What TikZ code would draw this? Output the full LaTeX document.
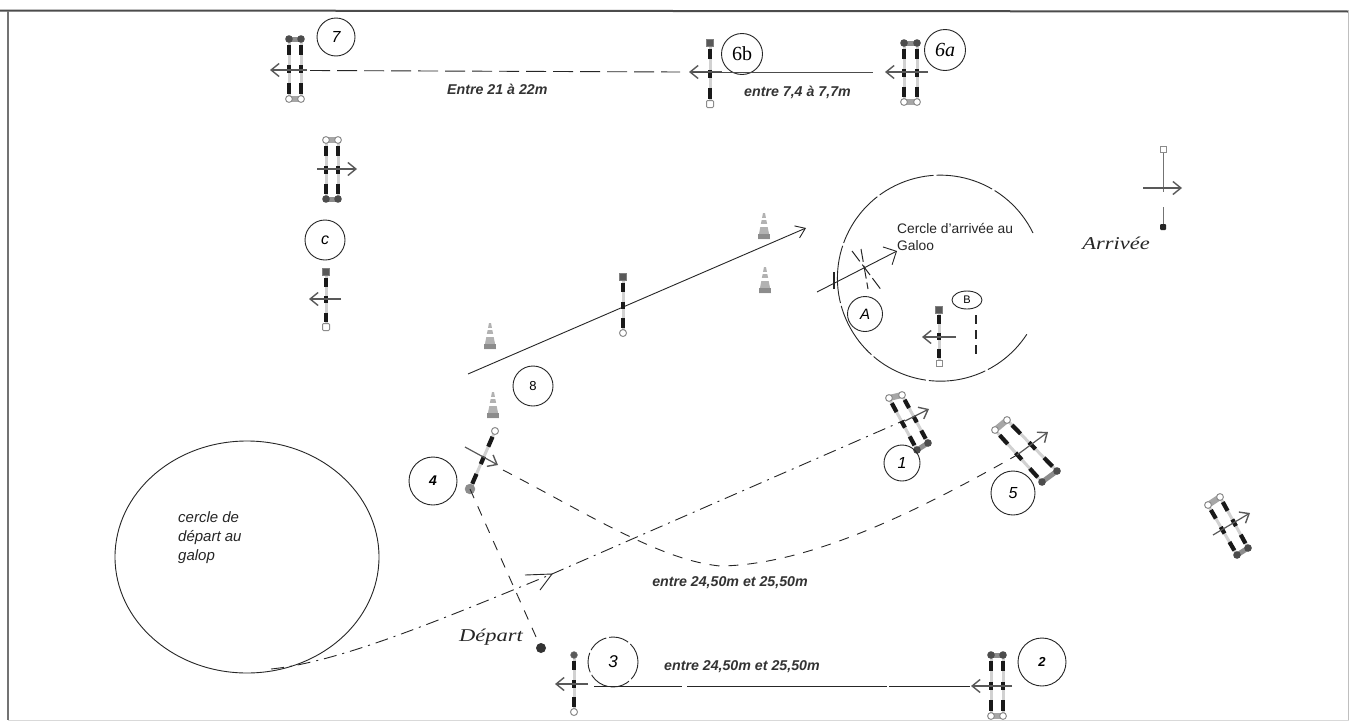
\documentclass[tikz,border=0pt]{standalone}
\usepackage{fontspec}
\setmainfont{Liberation Sans}
\newfontfamily\handfont{Liberation Serif}
\usetikzlibrary{calc,arrows.meta,shapes.geometric}
\tikzset{
  bubble/.style={circle,draw=black!85,line width=0.9pt,minimum size=38pt,inner sep=0pt,font=\itshape\fontsize{16}{16}\selectfont},
  handbubble/.style={bubble,minimum size=41pt,font=\handfont\itshape\fontsize{20}{20}\selectfont},
  lbl/.style={font=\bfseries\itshape\fontsize{14.2}{16}\selectfont,text=black!80,inner sep=0pt},
  plain/.style={font=\itshape\fontsize{15}{19}\selectfont,align=left,inner sep=0pt,text=black!85},
  hand/.style={font=\handfont\itshape\fontsize{18}{18}\selectfont,inner sep=0pt,text=black!85,xscale=1.25,transform shape},
  course/.style={line width=0.9pt,draw=black!85},
  dashcourse/.style={course,dash pattern=on 20pt off 7pt},
  dashsmall/.style={course,dash pattern=on 10pt off 9pt},
  dashdot/.style={course,dash pattern=on 13pt off 6pt on 2pt off 6pt},
  dirarrow/.style={line width=1.2pt,draw=black!65,-{Straight Barb[length=8pt,width=13pt,line width=1.4pt]}},
  capdark/.style={circle,fill=black!65,draw=black!50,minimum size=7pt,inner sep=0pt},
  caplight/.style={circle,fill=white,draw=black!45,line width=1pt,minimum size=7pt,inner sep=0pt}
}
% a striped pole between two named points
\newcommand{\pole}[2]{%
  \draw[line width=3pt,black!18] (#1) -- (#2);
  \draw[line width=4.2pt,black!90] ($(#1)!.10!(#2)$) -- ($(#1)!.27!(#2)$);
  \draw[line width=4.2pt,black!90] ($(#1)!.44!(#2)$) -- ($(#1)!.57!(#2)$);
  \draw[line width=4.2pt,black!90] ($(#1)!.74!(#2)$) -- ($(#1)!.91!(#2)$);
}
% joined end caps of a pair of poles
\newcommand{\lightcaps}[2]{%
  \draw[line width=6pt,black!35] (#1) -- (#2);
  \draw[fill=white,draw=black!45,line width=1pt] (#1) circle[radius=3.4];
  \draw[fill=white,draw=black!45,line width=1pt] (#2) circle[radius=3.4];
}
\newcommand{\darkcaps}[2]{%
  \draw[line width=5pt,black!45] (#1) -- (#2);
  \fill[black!70] (#1) circle[radius=3.8];
  \fill[black!70] (#2) circle[radius=3.8];
}
% conical marker, centred on a named coordinate
\newcommand{\conemark}[1]{%
  \fill[black!30] ($(#1)+(-6,13)$) -- ($(#1)+(6,13)$) -- ($(#1)+(1,-13)$) -- ($(#1)+(-1,-13)$) -- cycle;
  \fill[white] ($(#1)+(-4,-2)$) rectangle ($(#1)+(4,1)$);
  \fill[white] ($(#1)+(-3,-8)$) rectangle ($(#1)+(3,-6)$);
  \fill[black!45] ($(#1)+(-6,13)$) rectangle ($(#1)+(6,8)$);
}
\begin{document}
\begin{tikzpicture}[x=1pt,y=-1pt]
\useasboundingbox (0,0) rectangle (1349,723);
\fill[white] (0,0) rectangle (1349,723);
% frame
\coordinate (fa) at (0,10.5); \coordinate (fb) at (1349,11.5);
\coordinate (fc) at (8,11); \coordinate (fd) at (8,720);
\coordinate (fe) at (1348,11); \coordinate (ff) at (1348,720);
\coordinate (fg) at (8,720.5); \coordinate (fh) at (1349,720.5);
\draw[line width=2pt,black!70] (fa) -- (fb);
\draw[line width=1.5pt,black!55] (fc) -- (fd);
\draw[line width=1pt,black!25] (fe) -- (ff);
\draw[line width=1pt,black!15] (fg) -- (fh);

% obstacle 7
\coordinate (s7at) at (289,39); \coordinate (s7ab) at (289,99);
\coordinate (s7bt) at (301,39); \coordinate (s7bb) at (301,99);
\pole{s7at}{s7ab}\pole{s7bt}{s7bb}
\darkcaps{s7at}{s7bt}\lightcaps{s7ab}{s7bb}
\coordinate (a7t) at (307,70); \coordinate (a7h) at (270,70);
\draw[dirarrow] (a7t) -- (a7h);
\node[bubble] (n7) at (336,37) {7};

% obstacle 6b
\coordinate (s6bt) at (710,43); \coordinate (s6bb) at (710,104);
\pole{s6bt}{s6bb}
\node[capdark,rectangle] (c6bt) at (s6bt) {};
\node[caplight,rectangle,rounded corners=1pt] (c6bb) at (s6bb) {};
\coordinate (a6bt) at (722,72); \coordinate (a6bh) at (689,72);
\draw[dirarrow] (a6bt) -- (a6bh);
\node[handbubble,font=\handfont\fontsize{20}{20}\selectfont] (n6b) at (742,54) {6b};

% obstacle 6a
\coordinate (s6at) at (904,43); \coordinate (s6ab) at (904,102);
\coordinate (s6bt2) at (917,43); \coordinate (s6bb2) at (917,102);
\pole{s6at}{s6ab}\pole{s6bt2}{s6bb2}
\darkcaps{s6at}{s6bt2}\lightcaps{s6ab}{s6bb2}
\coordinate (a6at) at (928,72); \coordinate (a6ah) at (885,72);
\draw[dirarrow] (a6at) -- (a6ah);
\node[handbubble] (n6a) at (945,50) {6a};

% links on top line
\coordinate (l7) at (310,70.5);
\coordinate (l6) at (680,72);
\draw[dashcourse] (l7) -- (l6);
\coordinate (l6b) at (693,72);
\coordinate (l6a) at (873,72);
\draw[course,black!70] (l6b) -- (l6a);
\node[lbl,anchor=west] (t21) at (447,89) {Entre 21 à 22m};
\node[lbl] (t74) at (797.5,92) {entre 7,4 à 7,7m};

% obstacle C upper
\coordinate (cut) at (326,140); \coordinate (cub) at (326,199);
\coordinate (cvt) at (338,140); \coordinate (cvb) at (338,199);
\pole{cut}{cub}\pole{cvt}{cvb}
\lightcaps{cut}{cvt}\darkcaps{cub}{cvb}
\coordinate (cat) at (317,169); \coordinate (cah) at (357,169);
\draw[dirarrow] (cat) -- (cah);
\node[bubble,minimum size=40pt] (nC) at (325,240) {c};

% obstacle C lower
\coordinate (clt) at (326,272); \coordinate (clb) at (326,327);
\pole{clt}{clb}
\node[capdark,rectangle] (c1) at (clt) {};
\node[caplight,rectangle,rounded corners=1pt] (c2) at (clb) {};
\coordinate (clat) at (341,299); \coordinate (clah) at (309,299);
\draw[dirarrow] (clat) -- (clah);

% Arrivee
\coordinate (art) at (1163,149); \coordinate (arm) at (1163,192);
\coordinate (arn) at (1163,207); \coordinate (arb) at (1163,227);
\draw[line width=1pt,black!55] (art) -- (arm);
\draw[line width=1pt,black!55] (arn) -- (arb);
\node[caplight,rectangle,minimum size=6pt,line width=.8pt] (c3) at (art) {};
\node[rectangle,rounded corners=1pt,fill=black!85,minimum size=6pt,inner sep=0pt] (c4) at (arb) {};
\coordinate (arat) at (1143,188); \coordinate (arah) at (1182,188);
\draw[dirarrow] (arat) -- (arah);
\node[hand] (tarr) at (1116,243) {Arrivée};

% cones
\coordinate (cn1) at (764,226); \conemark{cn1}
\coordinate (cn2) at (765,280); \conemark{cn2}
\coordinate (cn3) at (490,336); \conemark{cn3}
\coordinate (cn4) at (493,405); \conemark{cn4}

% long line through the middle pole
\coordinate (m1) at (468,374); \coordinate (m2) at (806,228);
\draw[line width=.9pt,black!85,-{Straight Barb[length=9pt,width=13pt,line width=.9pt]}] (m1) -- (m2);
\coordinate (mpt) at (623,277); \coordinate (mpb) at (623,333);
\pole{mpt}{mpb}
\node[capdark,rectangle] (c5) at (mpt) {};
\node[caplight] (c6) at (mpb) {};
\node[bubble,minimum size=40pt,font=\fontsize{13}{13}\selectfont] (n8) at (533,386) {8};

% arrival circle
\coordinate (ci) at (1033,233);
\draw[line width=.9pt,black!85,dash pattern=on 58pt off 3pt] (ci) arc[x radius=103,y radius=103,start angle=-26,end angle=-327];
\node[inner sep=0pt,font=\fontsize{13.8}{17}\selectfont,align=left,anchor=north west,text=black!85] (tca) at (897,223) {Cercle d'arrivée au\\Galoo};
\coordinate (ca) at (817,292); \coordinate (cb) at (897,251);
\draw[line width=.9pt,black!85,-{Straight Barb[length=10pt,width=20pt,line width=.9pt]}] (ca) -- (cb);
\coordinate (x1) at (852,251); \coordinate (x2) at (882,291);
\coordinate (x3) at (861,249); \coordinate (x4) at (868,289);
\draw[line width=1pt,black!85,dash pattern=on 13pt off 4pt] (x1) -- (x2);
\draw[line width=1pt,black!85,dash pattern=on 13pt off 4pt] (x3) -- (x4);
\coordinate (y1) at (834,272); \coordinate (y2) at (834,289);
\draw[line width=1.2pt,black!85] (y1) -- (y2);
\node[bubble,minimum size=35pt,font=\itshape\fontsize{15}{15}\selectfont] (nA) at (865,314) {A};
\node[draw=black!85,line width=.9pt,ellipse,minimum width=30pt,minimum height=18pt,inner sep=0pt,font=\fontsize{11}{11}\selectfont] (nB) at (967,300) {B};
\coordinate (bat) at (939,310); \coordinate (bab) at (939,363);
\pole{bat}{bab}
\node[capdark,rectangle] (c7) at (bat) {};
\node[caplight,rectangle,line width=.8pt,minimum size=6pt] (c8) at (bab) {};
\coordinate (baat) at (956,337); \coordinate (baah) at (922,337);
\draw[dirarrow] (baat) -- (baah);
\coordinate (bbt) at (976,315); \coordinate (bbb) at (976,358);
\draw[line width=2.4pt,black!85,dash pattern=on 9pt off 6pt] (bbt) -- (bbb);

% obstacle 4
\coordinate (o4t) at (495,431); \coordinate (o4b) at (470,489);
\pole{o4t}{o4b}
\node[caplight] (c9) at (o4t) {};
\node[capdark,black!45,fill=black!45,minimum size=10pt] (c10) at (o4b) {};
\coordinate (o4at) at (465,447); \coordinate (o4ah) at (498,465);
\draw[dirarrow] (o4at) -- (o4ah);
\node[bubble,minimum size=48pt,font=\bfseries\itshape\fontsize{14}{14}\selectfont] (n4) at (433,481) {4};

% start circle
\node[draw=black!85,line width=.9pt,ellipse,minimum width=264pt,minimum height=232pt,inner sep=0pt] (startc) at (247,557) {};
\node[plain,anchor=north west] (tstart) at (178,511) {cercle de\\départ au\\galop};

% start to 1 path
\coordinate (p0) at (271,669);
\coordinate (p1) at (552,574);
\coordinate (p2) at (905,420);
\draw[dashdot] (p0) .. controls (340,662) and (440,620) .. (p1) -- (p2);
\coordinate (pa) at (525,575); \coordinate (pb) at (540,590);
\draw[line width=.9pt,black!85] (pa) -- (p1) -- (pb);

% obstacle 1
\coordinate (o1at) at (889,398); \coordinate (o1ab) at (917,450);
\coordinate (o1bt) at (902,395); \coordinate (o1bb) at (928,443);
\pole{o1at}{o1ab}\pole{o1bt}{o1bb}
\lightcaps{o1at}{o1bt}\darkcaps{o1ab}{o1bb}
\coordinate (o1at2) at (905,421); \coordinate (o1ah) at (929,409);
\draw[dirarrow] (o1at2) -- (o1ah);
\node[bubble,minimum size=36pt] (n1) at (902,463) {1};

% obstacle 5
\coordinate (o5at) at (995,430); \coordinate (o5ab) at (1042,482);
\coordinate (o5bt) at (1007,420); \coordinate (o5bb) at (1057,471);
\pole{o5at}{o5ab}\pole{o5bt}{o5bb}
\lightcaps{o5at}{o5bt}\darkcaps{o5ab}{o5bb}
\coordinate (o5at2) at (1017,455); \coordinate (o5ah) at (1048,432);
\draw[dirarrow] (o5at2) -- (o5ah);
\node[bubble,minimum size=44pt] (n5) at (1013,493) {5};

% obstacle right
\coordinate (orat) at (1208,505); \coordinate (orab) at (1237,555);
\coordinate (orbt) at (1220,497); \coordinate (orbb) at (1248,548);
\pole{orat}{orab}\pole{orbt}{orbb}
\lightcaps{orat}{orbt}\darkcaps{orab}{orbb}
\coordinate (orat2) at (1213,535); \coordinate (orah) at (1250,513);
\draw[dirarrow] (orat2) -- (orah);

% 4 to 5 dashed curve
\coordinate (d4) at (503,470); \coordinate (d5) at (1017,455);
\draw[dashsmall] (d4) .. controls (590,515) and (660,560) .. (720,566) .. controls (810,565) and (920,510) .. (d5);
\node[lbl] (t245a) at (730,583) {entre 24,50m et 25,50m};

% depart
\node[circle,fill=black!80,minimum size=10pt,inner sep=0pt] (dep) at (541,648) {};
\draw[dashsmall] (o4b) -- (dep);
\node[hand] (tdep) at (491,637) {Départ};

% obstacle 3
\coordinate (o3t) at (574,655); \coordinate (o3b) at (574,712);
\pole{o3t}{o3b}
\node[capdark,minimum size=7pt] (c17) at (o3t) {};
\node[caplight] (c18) at (o3b) {};
\coordinate (o3at) at (588,684); \coordinate (o3ah) at (555,684);
\draw[dirarrow] (o3at) -- (o3ah);
\node[draw=black!85,circle,line width=.9pt,dash pattern=on 20pt off 3pt,minimum size=50pt,inner sep=0pt,font=\itshape\fontsize{17}{17}\selectfont] (n3) at (613,662) {3};

% obstacle 2
\coordinate (o2at) at (991,655); \coordinate (o2ab) at (991,716);
\coordinate (o2bt) at (1003,655); \coordinate (o2bb) at (1003,716);
\pole{o2at}{o2ab}\pole{o2bt}{o2bb}
\darkcaps{o2at}{o2bt}\lightcaps{o2ab}{o2bb}
\coordinate (o2at2) at (1012,686); \coordinate (o2ah) at (971,686);
\draw[dirarrow] (o2at2) -- (o2ah);
\node[bubble,minimum size=48pt,font=\bfseries\itshape\fontsize{13}{13}\selectfont] (n2) at (1042,662) {2};

\coordinate (l3) at (594,686.5); \coordinate (l2) at (970,686.5);
\draw[course,dash pattern=on 88pt off 5pt on 200pt off 2pt] (l3) -- (l2);
\node[lbl,anchor=west] (t245b) at (664,667) {entre 24,50m et 25,50m};
\end{tikzpicture}
\end{document}
